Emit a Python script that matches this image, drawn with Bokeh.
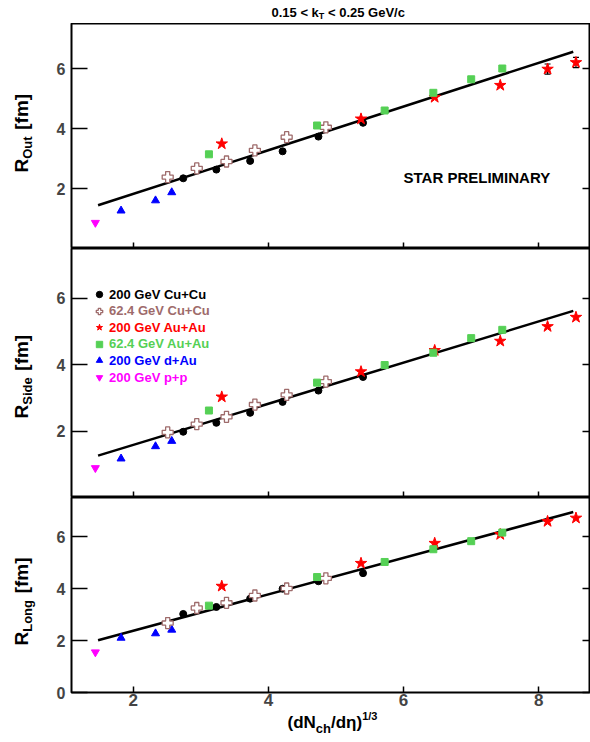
import math
from bokeh.plotting import figure
from bokeh.layouts import column, row
from bokeh.models import Range1d, FixedTicker, LinearAxis, Label, Legend, LegendItem, Whisker, ColumnDataSource
from bokeh.embed import file_html
from bokeh.resources import INLINE

# ---------------- data ----------------
x_pp = [1.44]
x_dau = [1.82, 2.33, 2.57]
x_cucu200 = [2.74, 3.23, 3.73, 4.21, 4.74, 5.40]
x_cucu62 = [2.51, 2.94, 3.38, 3.80, 4.27, 4.85]
x_auau200 = [3.31, 5.37, 6.46, 7.43, 8.13, 8.55]
x_auau62 = [3.12, 4.72, 5.72, 6.44, 7.00, 7.46]
fit_x = [1.48, 8.51]

rout_pp = [0.86]
rout_dau = [1.26, 1.60, 1.87]
rout_cucu200 = [2.34, 2.63, 2.92, 3.24, 3.73, 4.19]
rout_cucu62 = [2.38, 2.67, 2.90, 3.27, 3.71, 4.04]
rout_auau200 = [3.49, 4.32, 5.04, 5.44, 5.98, 6.20]
rout_auau200_err = [0.0, 0.0, 0.0, 0.0, 0.17, 0.17]
rout_auau62 = [3.14, 4.10, 4.60, 5.19, 5.64, 6.00]
rout_fit = [1.44, 6.56]

rside_pp = [0.89]
rside_dau = [1.17, 1.54, 1.70]
rside_cucu200 = [1.98, 2.25, 2.55, 2.88, 3.22, 3.63]
rside_cucu62 = [1.96, 2.21, 2.43, 2.80, 3.09, 3.49]
rside_auau200 = [3.03, 3.79, 4.43, 4.71, 5.15, 5.43]
rside_auau62 = [2.62, 3.46, 3.99, 4.36, 4.80, 5.05]
rside_fit = [1.26, 5.62]

rlong_pp = [1.55]
rlong_dau = [2.10, 2.27, 2.41]
rlong_cucu200 = [3.02, 3.29, 3.61, 3.99, 4.28, 4.59]
rlong_cucu62 = [2.67, 3.25, 3.45, 3.73, 4.00, 4.39]
rlong_auau200 = [4.09, 4.97, 5.74, 6.08, 6.58, 6.71]
rlong_auau62 = [3.34, 4.44, 5.02, 5.51, 5.82, 6.15]
rlong_fit = [2.01, 6.94]

series_labels = ["200 GeV Cu+Cu", "62.4 GeV Cu+Cu", "200 GeV Au+Au",
                 "62.4 GeV Au+Au", "200 GeV d+Au", "200 GeV p+p"]
y_ticks_upper = [2, 4, 6]
y_ticks_lower = [0, 2, 4, 6]
x_ticks = [2, 4, 6, 8]

# ---------------- style ----------------
FONT = "Liberation Sans"
C_CUCU200 = "black"
C_CUCU62 = "#9e6b6b"
C_AUAU200 = "#ff0000"
C_AUAU62 = "#55d055"
C_DAU = "#0000ff"
C_PP = "#ff00ff"

W_CHARS = {'0': .556, '1': .556, '2': .556, '3': .556, '4': .556, '5': .556, '6': .556,
           '7': .556, '8': .556, '9': .556, '.': .278, ' ': .278, '<': .584, 'k': .556,
           'T': .611, 'G': .778, 'e': .556, 'V': .667, '/': .278, 'c': .556, 'R': .722,
           'O': .778, 'u': .611, 't': .333, '[': .333, 'f': .333, 'm': .889, ']': .333,
           'S': .667, 'i': .278, 'd': .611, 'L': .611, 'o': .611, 'n': .611, 'g': .611,
           '(': .333, ')': .333, 'N': .722, 'h': .611, 'η': .611}


def tw(text, size):
    return sum(W_CHARS.get(ch, .6) for ch in text) * size


LEFT_W = 48          # width of the y-title strip
COL_W = 590 - LEFT_W  # width of the plot column
BORDER_L = 23
x_range = Range1d(1.087, 8.765)


def lab(p, x, y, text, size, color="black", angle=0.0, align="left", baseline="middle"):
    p.add_layout(Label(x=x, y=y, x_units="screen", y_units="screen", text=text,
                       text_font=FONT, text_font_style="bold", text_font_size=f"{size}px",
                       text_color=color, angle=angle, text_align=align, text_baseline=baseline))


def blank(width, height, left=0):
    f = figure(width=width, height=height, x_range=Range1d(0, 1), y_range=Range1d(0, 1),
               x_axis_type=None, y_axis_type=None, output_backend="svg",
               toolbar_location=None, min_border=0, min_border_left=left)
    f.outline_line_color = None
    f.background_fill_color = "white"
    f.border_fill_color = "white"
    return f


def no_labels(ticks):
    return {t: "" for t in ticks}


def panel(frame_h, bottom, yticks, xlabels):
    p = figure(width=COL_W, frame_height=frame_h, x_range=x_range, y_range=Range1d(0, 7.5),
               x_axis_type=None, y_axis_type=None, output_backend="svg",
               toolbar_location=None, min_border_left=BORDER_L, min_border_right=0,
               min_border_top=0, min_border_bottom=bottom)
    p.outline_line_color = "black"
    p.outline_line_width = 2
    p.background_fill_color = "white"
    p.border_fill_color = "white"
    ly = LinearAxis(ticker=FixedTicker(ticks=yticks), major_tick_in=16, major_tick_out=0,
                    minor_tick_line_color=None, axis_line_color=None,
                    major_tick_line_width=1.5, major_label_standoff=6,
                    major_label_text_font=FONT, major_label_text_font_style="bold",
                    major_label_text_font_size="16px")
    p.add_layout(ly, "left")
    ry = LinearAxis(ticker=FixedTicker(ticks=yticks), major_tick_in=8, major_tick_out=0,
                    minor_tick_line_color=None, axis_line_color=None,
                    major_tick_line_width=1.5, major_label_standoff=0,
                    major_label_overrides=no_labels(yticks),
                    major_label_text_font_size="0px")
    p.add_layout(ry, "right")
    bx = LinearAxis(ticker=FixedTicker(ticks=x_ticks), major_tick_in=6, major_tick_out=0,
                    minor_tick_line_color=None, axis_line_color=None,
                    major_tick_line_width=1.5,
                    major_label_standoff=1 if xlabels else 0,
                    major_label_text_font=FONT, major_label_text_font_style="bold",
                    major_label_text_font_size="17px" if xlabels else "0px")
    if not xlabels:
        bx.major_label_overrides = no_labels(x_ticks)
    p.add_layout(bx, "below")
    return p


def draw(p, pp, dau, cucu200, cucu62, auau200, auau62, fit):
    p.line(fit_x, fit, line_color="black", line_width=2.5)
    r_pp = p.scatter(x_pp, pp, marker="inverted_triangle", size=8, color=C_PP)
    r_dau = p.scatter(x_dau, dau, marker="triangle", size=8, color=C_DAU)
    r_cc200 = p.scatter(x_cucu200, cucu200, marker="circle", size=7, color=C_CUCU200)
    r_cc62 = p.scatter(x_cucu62, cucu62, marker="plus", size=11, fill_color="white",
                       line_color=C_CUCU62, line_width=1.3)
    r_aa200 = p.scatter(x_auau200, auau200, marker="star", size=12, color=C_AUAU200)
    r_aa62 = p.scatter(x_auau62, auau62, marker="square", size=7, color=C_AUAU62)
    return [r_cc200, r_cc62, r_aa200, r_aa62, r_dau, r_pp]


def pieces(p, x0, y0, parts, angle=0.0):
    """parts: (text, size, shift of the text centre, leading gap in em)"""
    pos = x0
    for txt, sz, shift, gap in parts:
        pos += gap * sz
        if angle:
            lab(p, y0 + shift, pos, txt, sz, angle=angle)
        else:
            lab(p, pos, y0 + shift, txt, sz)
        pos += tw(txt, sz)


# ---- title strip (frame starts at the panels' frame left) ----
tfig = blank(COL_W, 23, BORDER_L)
pieces(tfig, 200, 11.2, [("0.15 < k", 13, 0, 0), ("T", 9, -3.3, 0), ("< 0.25 GeV/c", 13, 0, 0.278)])

# ---- top panel: R_out ----
p1 = panel(225, 0, y_ticks_upper, False)
draw(p1, rout_pp, rout_dau, rout_cucu200, rout_cucu62, rout_auau200, rout_auau62, rout_fit)
err_idx = [i for i, e in enumerate(rout_auau200_err) if e > 0]
src = ColumnDataSource(dict(
    x=[x_auau200[i] for i in err_idx],
    lo=[rout_auau200[i] - rout_auau200_err[i] for i in err_idx],
    hi=[rout_auau200[i] + rout_auau200_err[i] for i in err_idx]))
wk = Whisker(source=src, base="x", lower="lo", upper="hi", dimension="height",
             line_color="black", line_width=1.2)
wk.upper_head.size = 6
wk.lower_head.size = 6
wk.upper_head.line_width = 1.2
wk.lower_head.line_width = 1.2
p1.add_layout(wk)
lab(p1, 332, 71, "STAR PRELIMINARY", 15)

# ---- middle panel: R_side ----
p2 = panel(249, 0, y_ticks_upper, False)
rends = draw(p2, rside_pp, rside_dau, rside_cucu200, rside_cucu62, rside_auau200, rside_auau62, rside_fit)
leg_colors = [C_CUCU200, C_CUCU62, C_AUAU200, C_AUAU62, C_DAU, C_PP]
leg_rows = [203, 186.3, 169.7, 153.4, 137, 119.7]
for r, txt, col, yy in zip(rends, series_labels, leg_colors, leg_rows):
    lg = Legend(items=[LegendItem(label=txt, renderers=[r])], location=(20, yy - 8),
                padding=0, margin=0, spacing=0, glyph_width=16, glyph_height=16,
                label_height=16, label_standoff=2, border_line_color=None,
                background_fill_alpha=0, label_text_font=FONT,
                label_text_font_style="bold", label_text_font_size="13px",
                label_text_color=col)
    p2.add_layout(lg, "center")

# ---- bottom panel: R_long ----
p3 = panel(195, 19, y_ticks_lower, True)
draw(p3, rlong_pp, rlong_dau, rlong_cucu200, rlong_cucu62, rlong_auau200, rlong_auau62, rlong_fit)

# ---- x title strip ----
xfig = blank(COL_W, 29, BORDER_L)
pieces(xfig, 216, 18, [("(dN", 17, 0, 0), ("ch", 13, -5.5, 0), ("/dη)", 17, 0, 0), ("1/3", 11, 6.5, 0)])

# ---- y title strip ----
yfig = blank(LEFT_W, 742)
for y0, sub in [(570, "Out"), (324, "Side"), (97, "Long")]:
    pieces(yfig, y0, 21, [("R", 19, 0, 0), (sub, 13, 6, 0), ("[fm]", 19, 0, 0.35)],
           angle=math.pi / 2)

layout = row(yfig, column(tfig, p1, p2, p3, xfig, spacing=0), spacing=0)
open("out.html", "w").write(file_html(layout, INLINE))
